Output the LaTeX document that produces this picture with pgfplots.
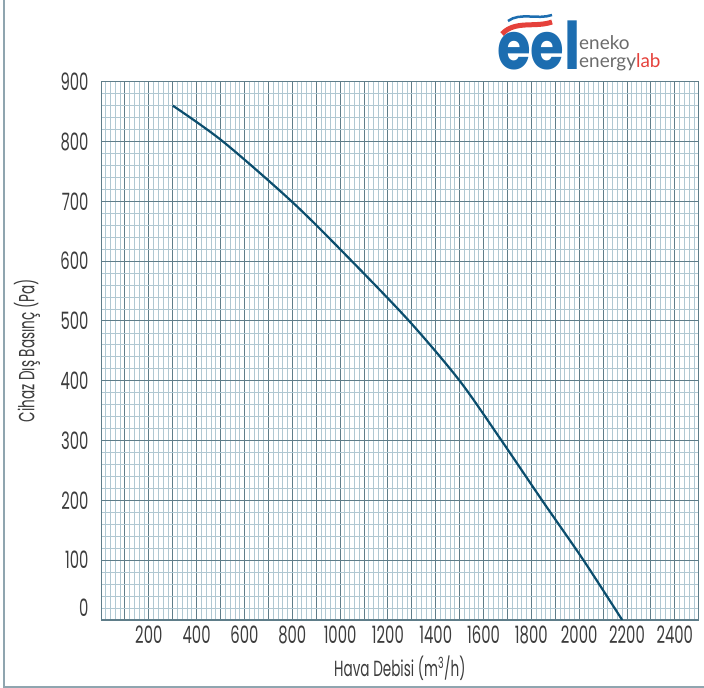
\documentclass[border=0pt]{standalone}
\usepackage{pgfplots}
\pgfplotsset{compat=1.18}
\usepackage{fontspec}
\setmainfont{Poppins}[FakeStretch=0.62]
\newfontfamily\logofont{Poppins}
\newfontfamily\logotext{Lato}
\definecolor{minorc}{HTML}{B0C8D2}
\definecolor{majorc}{HTML}{5F7D89}
\definecolor{curvec}{HTML}{0B4E6E}
\definecolor{txt}{HTML}{3C3C3C}
\definecolor{framec}{HTML}{8FA5AF}
\definecolor{logoblue}{HTML}{1C6DB0}
\definecolor{logored}{HTML}{E5413B}
\definecolor{logogray}{HTML}{6B6B6B}
\begin{document}
\begin{tikzpicture}[x=1bp,y=1bp]
\useasboundingbox (0,0) rectangle (704,688);
\draw[framec, line width=1.5bp] (4,688) -- (4,1) -- (704,1);
\begin{axis}[
  at={(101bp,68bp)}, anchor=south west,
  scale only axis, width=597.7bp, height=538.3bp,
  xmin=0, xmax=2500, ymin=0, ymax=900,
  xtick={0,100,...,2500},
  xticklabels={,,200,,400,,600,,800,,1000,,1200,,1400,,1600,,1800,,2000,,2200,,2400,},
  ytick={0,100,...,900},
  yticklabels={\raisebox{24bp}{0},100,200,300,400,500,600,700,800,900},
  minor tick num=4,
  grid=both,
  minor grid style={minorc, line width=0.75bp},
  major grid style={majorc, line width=0.9bp},
  major tick length=0, minor tick length=0,
  axis line style={majorc, line width=1bp},
  tick label style={font=\fontsize{24}{24}\selectfont, text=txt},
  xticklabel style={yshift=-2bp},
  yticklabel style={xshift=-9bp},
  xlabel={Hava Debisi (m\textsuperscript{3}/h)},
  ylabel={Cihaz Dış Basınç (Pa)},
  every axis x label/.style={at={(axis description cs:0.5,-0.0892)}, anchor=center, font=\fontsize{22}{22}\selectfont, text=txt},
  every axis y label/.style={at={(axis description cs:-0.1238,0.5)}, rotate=90, anchor=center, font=\fontsize{22}{22}\selectfont, text=txt},
]
\addplot[curvec, line width=2.2bp, smooth] coordinates {
(300,860)(510,800)(805,697)(1049,600)(1293,498)(1500,400)(1677,299)(1845,200)(2018,100)(2180,0)};
\end{axis}
% logo
\draw[logored, line width=5bp] (502,654) .. controls (515,668) and (535,660) .. (552,666);
\draw[logoblue, line width=2.5bp] (508,667) .. controls (520,676) and (538,668) .. (552,673);
\node[anchor=base west, inner sep=0, text=logoblue] at (497,618) {\scalebox{0.83}[1]{\logofont\bfseries\fontsize{66}{66}\selectfont eel}};
\node[anchor=base west, inner sep=0, text=logogray] at (579,638) {\logotext\fontsize{19}{19}\selectfont eneko};
\node[anchor=base west, inner sep=0, text=logogray] at (579,620) {\logotext\fontsize{19}{19}\selectfont energy\textcolor{logored}{lab}};
\end{tikzpicture}
\end{document}
